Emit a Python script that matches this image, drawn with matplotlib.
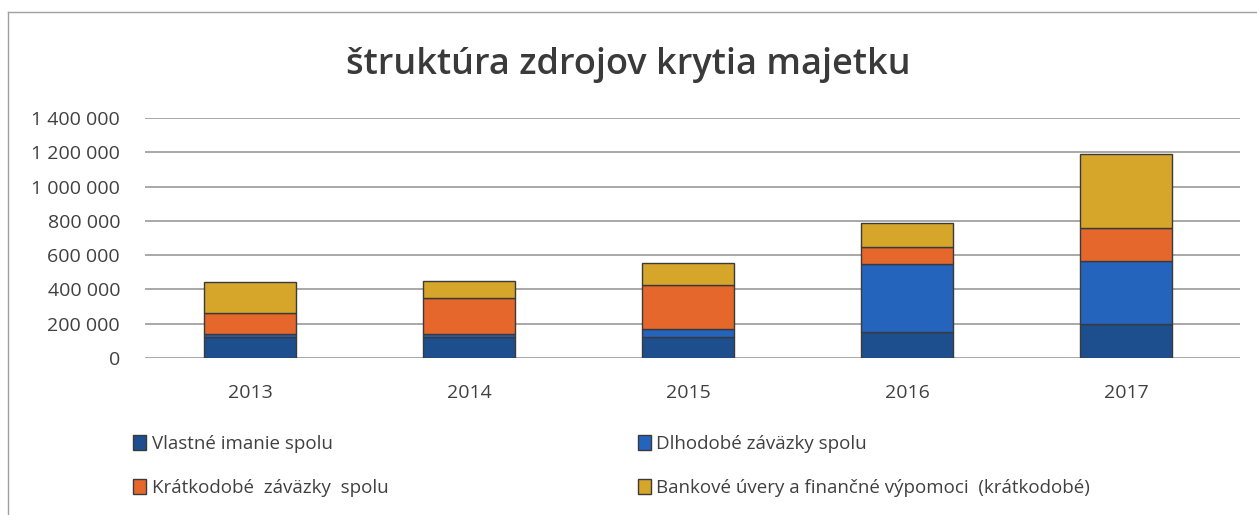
import matplotlib.pyplot as plt
import numpy as np

# data
years = ['2013', '2014', '2015', '2016', '2017']
vlastne = [125000, 125000, 125000, 150000, 200000]
dlhodobe = [15000, 15000, 45000, 400000, 365000]
kratkodobe = [125000, 210000, 255000, 97000, 195000]
bankove = [180000, 100000, 128000, 143000, 430000]

labels = ['Vlastné imanie spolu', 'Dlhodobé záväzky spolu',
          'Krátkodobé  záväzky  spolu',
          'Bankové úvery a finančné výpomoci  (krátkodobé)']
colors = ['#1d4f8f', '#2464bd', '#e5672b', '#d6a62a']

plt.rcParams['font.family'] = ['Open Sans', 'DejaVu Sans']

fig = plt.figure(figsize=(12.57, 5.15), dpi=100)
ax = fig.add_axes([145 / 1257, 1 - 358 / 515, 1095 / 1257, 240 / 515])

x = np.arange(len(years))
bottom = np.zeros(len(years))
handles = []
for series, color, label in zip([vlastne, dlhodobe, kratkodobe, bankove], colors, labels):
    bars = ax.bar(x, series, bottom=bottom, width=0.42, color=color,
                  edgecolor='#3a3a3a', linewidth=1.0, label=label, zorder=3)
    handles.append(bars)
    bottom += np.array(series)

ax.set_xlim(-0.48, 4.52)
ax.set_ylim(0, 1400000)
ax.set_yticks(np.arange(0, 1400001, 200000))
ax.set_yticklabels([f'{v:,}'.replace(',', ' ') for v in range(0, 1400001, 200000)])
ax.set_xticks(x)
ax.set_xticklabels(years)
ax.tick_params(axis='both', length=0, labelsize=14, colors='#404040')
ax.tick_params(axis='y', pad=18)
ax.tick_params(axis='x', pad=19)
ax.grid(axis='y', color='#9a9a9a', linewidth=1.2, zorder=0)
for s in ax.spines.values():
    s.set_visible(False)

fig.text(0.5, 1 - 65 / 515, 'štruktúra zdrojov krytia majetku', ha='center', va='center',
         fontsize=26, fontweight='semibold', color='#3a3a3a')

# legend: two rows, two columns
order = [0, 2, 1, 3]
fig.legend([handles[i] for i in order], [labels[i] for i in order], ncol=2,
           loc='upper left', bbox_to_anchor=(116 / 1257, 1 - 418 / 515),
           frameon=False, fontsize=13.5, handlelength=0.7, handleheight=0.8,
           handletextpad=0.3, columnspacing=13.3, labelspacing=1.4, labelcolor='#404040')

# chart border
fig.add_artist(plt.Line2D([8 / 1257, 1], [1 - 12 / 515, 1 - 12 / 515], color='#a0a0a0', linewidth=1))
fig.add_artist(plt.Line2D([8 / 1257, 8 / 1257], [0, 1 - 12 / 515], color='#a0a0a0', linewidth=1))

fig.savefig('out.png', dpi=100)
